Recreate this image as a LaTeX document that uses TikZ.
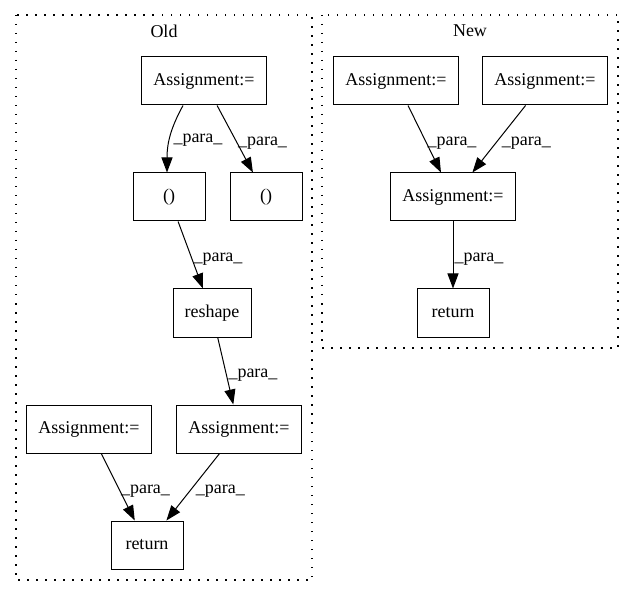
\documentclass[tikz,border=0pt]{standalone}
\usepackage{fontspec}
\setmainfont{Liberation Serif}
\usetikzlibrary{arrows.meta}
\begin{document}
\begin{tikzpicture}[x=1pt, y=-1pt,
    box/.style={draw, line width=1pt, minimum height=48pt, font=\fontsize{18}{20}\selectfont},
    edge/.style={line width=1pt, -{Triangle[length=15pt, width=11pt]}},
    lbl/.style={font=\fontsize{18}{20}\selectfont, anchor=west, inner sep=2.5pt, yshift=-4pt},
    title/.style={font=\fontsize{18}{20}\selectfont},
    cluster/.style={line width=1.2pt, dash pattern=on 1.5pt off 7.5pt}]

    \useasboundingbox (0,0) rectangle (635,596);

    % Draw Clusters
    \draw[cluster] (16,15) rectangle (312,580);
    \draw[cluster] (322,15) rectangle (618,348);
    \node[title] (oldtitle) at (164,31) {Old};
    \node[title] (newtitle) at (470,31) {New};

    % Draw Old Nodes
    \node[box, minimum width=125pt] (oassign) at (204,81) {Assignment:=};
    \node[box, minimum width=72pt] (oparl) at (169,197) {()};
    \node[box, minimum width=72pt] (oparr) at (266,197) {()};
    \node[box, minimum width=78pt] (oreshape) at (212,313) {reshape};
    \node[box, minimum width=125pt] (oassignl) at (89,429) {Assignment:=};
    \node[box, minimum width=125pt] (oassignr) at (239,429) {Assignment:=};
    \node[box, minimum width=72pt] (oreturn) at (147,545) {return};

    % Draw New Nodes
    \node[box, minimum width=125pt] (nassignl) at (396,81) {Assignment:=};
    \node[box, minimum width=125pt] (nassignr) at (545,81) {Assignment:=};
    \node[box, minimum width=125pt] (nassign) at (453,197) {Assignment:=};
    \node[box, minimum width=72pt] (nreturn) at (453,313) {return};

    % Draw Old Edges
    \draw[edge] ([xshift=-21pt]oassign.south) .. controls +(-12,22) and +(0,-30) .. ([xshift=-2pt]oparl.north)
        node[lbl, pos=0.5] {\_para\_};
    \draw[edge] (oassign) -- node[lbl] {\_para\_} (oparr);
    \draw[edge] (oparl) -- node[lbl] {\_para\_} (oreshape);
    \draw[edge] (oreshape) -- node[lbl] {\_para\_} (oassignr);
    \draw[edge] (oassignl) -- node[lbl] {\_para\_} (oreturn);
    \draw[edge] (oassignr) -- node[lbl] {\_para\_} (oreturn);

    % Draw New Edges
    \draw[edge] (nassignl) -- node[lbl] {\_para\_} (nassign);
    \draw[edge] (nassignr) -- node[lbl] {\_para\_} (nassign);
    \draw[edge] (nassign) -- node[lbl, inner sep=1pt] {\_para\_} (nreturn);
\end{tikzpicture}
\end{document}
